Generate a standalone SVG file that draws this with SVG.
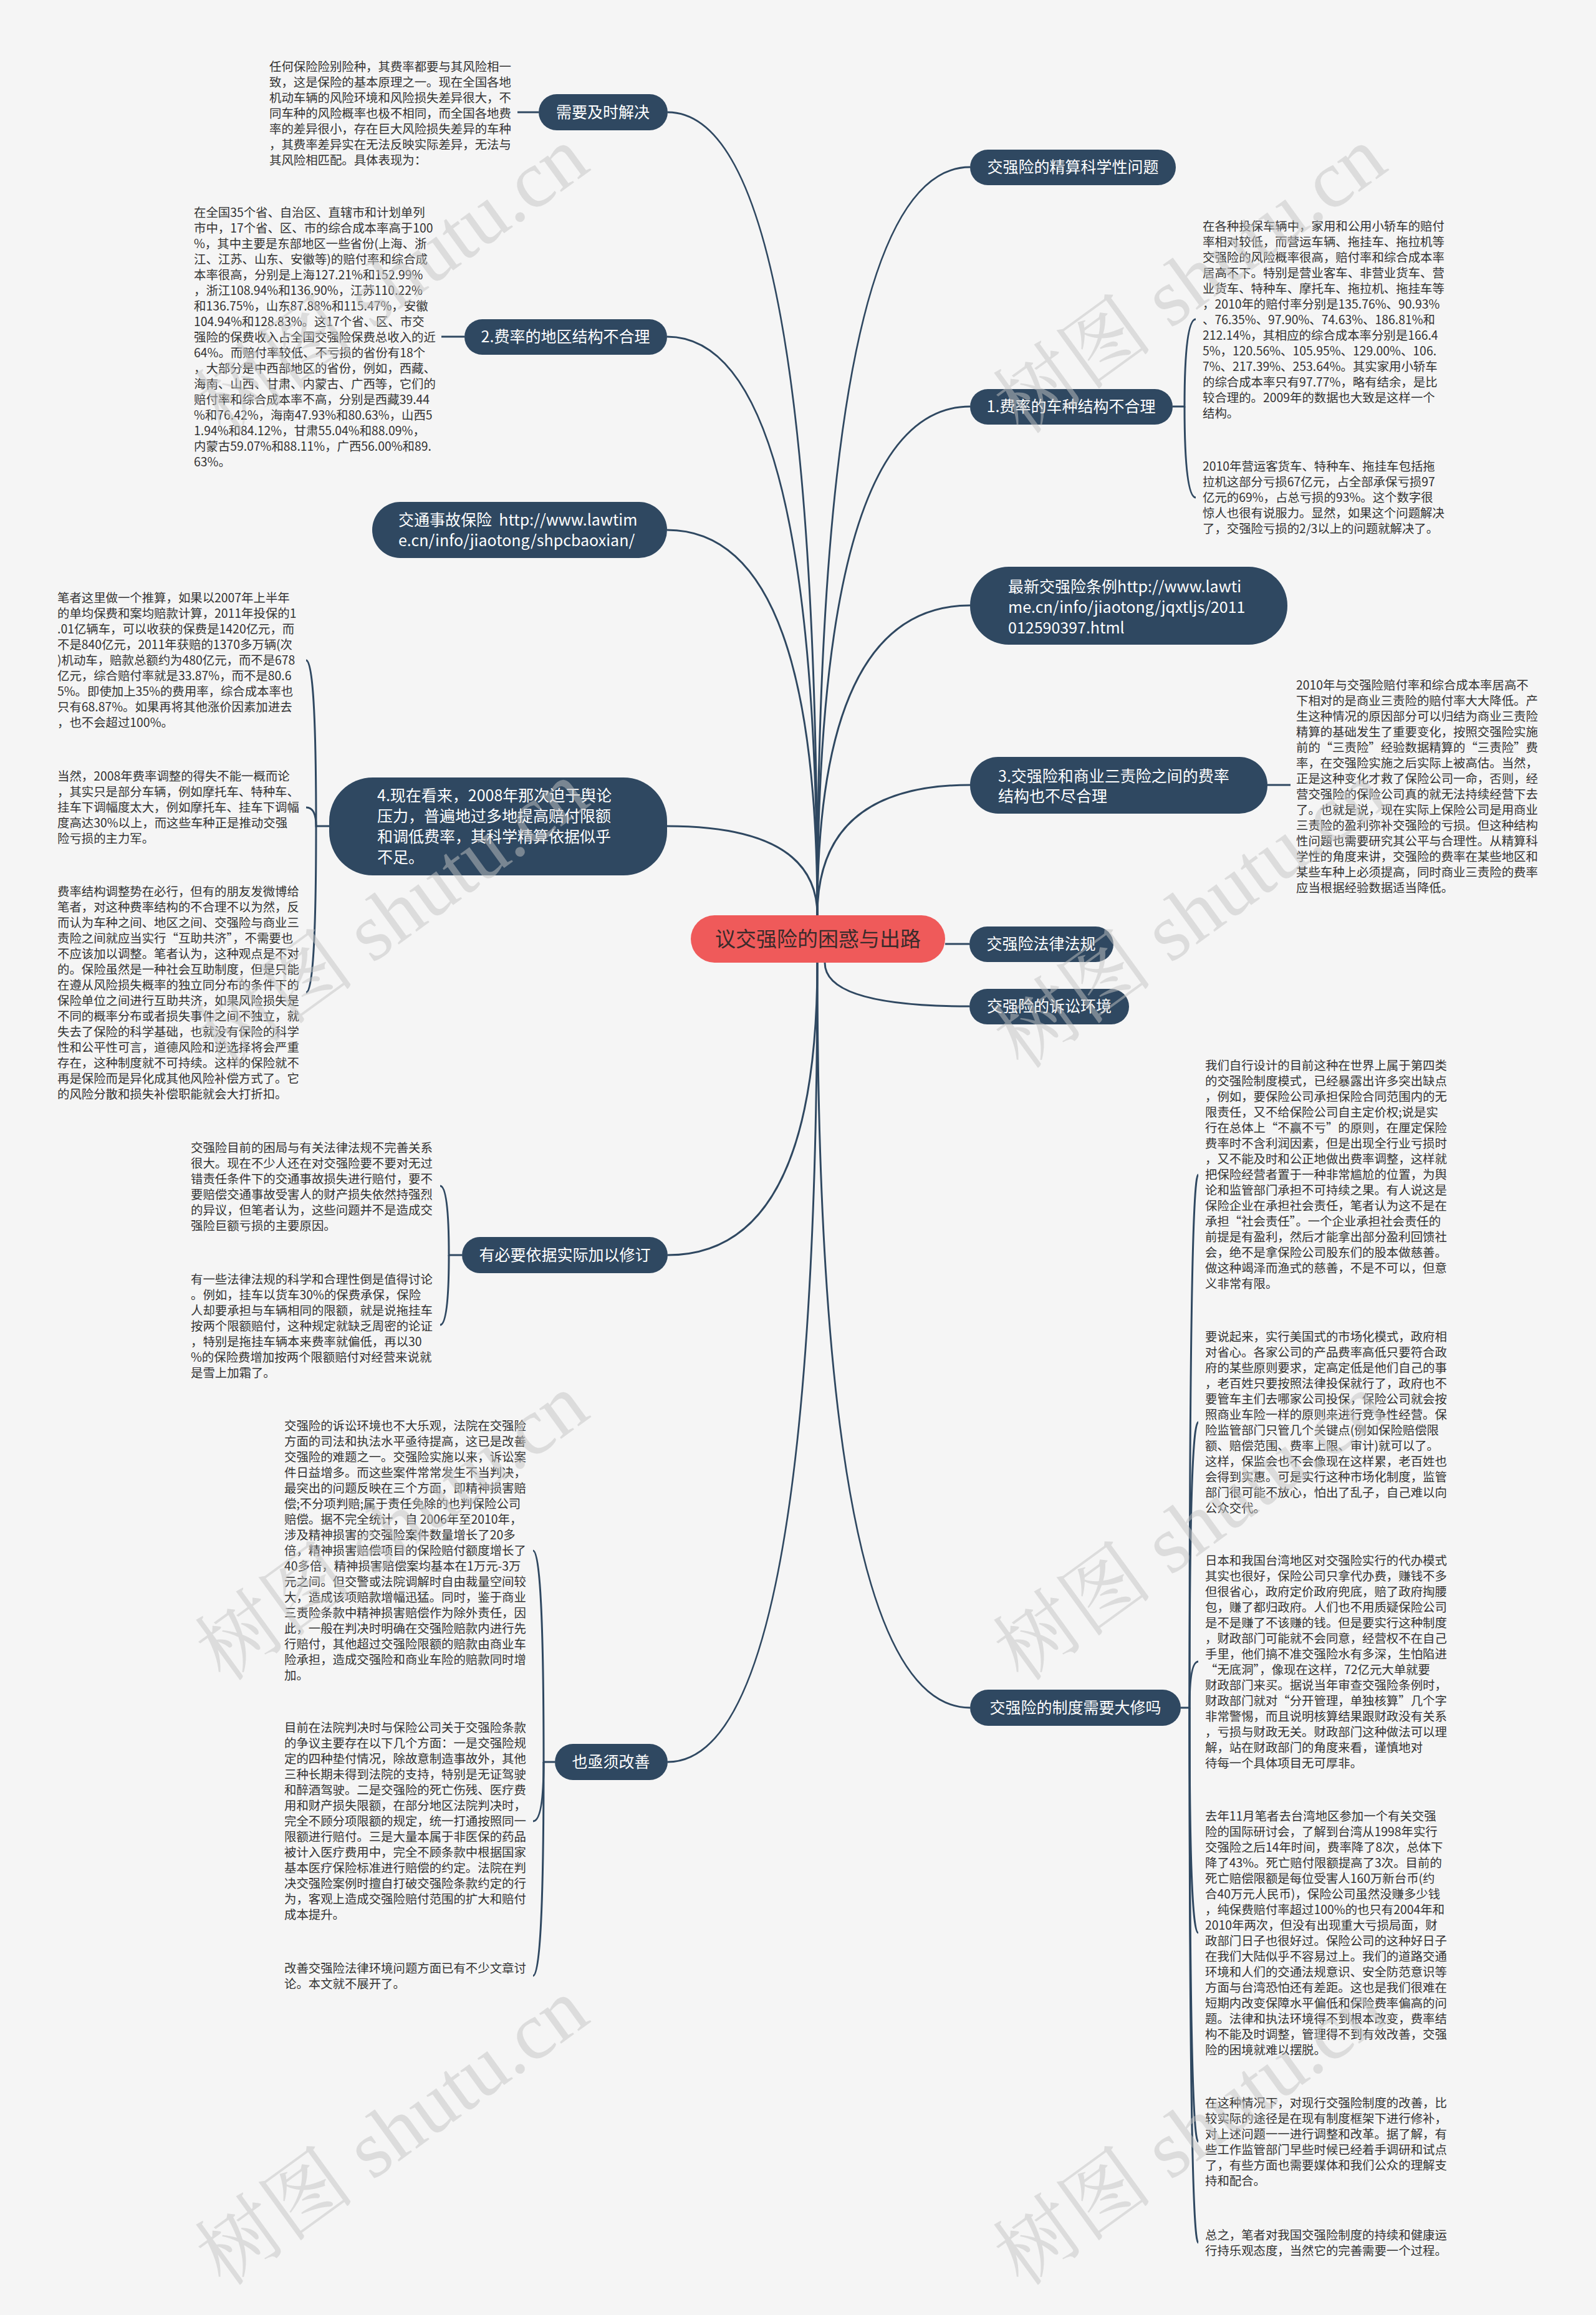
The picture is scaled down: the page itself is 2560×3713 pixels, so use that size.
<svg xmlns="http://www.w3.org/2000/svg" width="2560" height="3713" viewBox="0 0 2560 3713">
<style>
.n{fill:#2f4861}
.nt{fill:#ffffff;font-family:"Noto Sans CJK SC","Noto Sans",sans-serif;font-size:25px}
.t{fill:#333333;font-family:"Noto Sans CJK SC","Noto Sans",sans-serif;font-size:19.4px}
.c{fill:none;stroke:#2f4861;stroke-width:3}
.w{fill:#c4c4c4;fill-opacity:0.5;font-family:"Liberation Serif","Noto Serif CJK SC","Noto Sans CJK SC",serif;font-size:130px}
</style>
<rect x="0" y="0" width="2560" height="3713" fill="#f5f5f5"/>
<g id="connectors">
<path class="c" d="M1311,1468 Q1311,180 1071,180"/>
<path class="c" d="M1311,1468 Q1311,540 1070,540"/>
<path class="c" d="M1311,1468 Q1311,850 1070,850"/>
<path class="c" d="M1311,1468 Q1311,1325 1070,1325"/>
<path class="c" d="M1311,1468 Q1311,268 1556,268"/>
<path class="c" d="M1311,1468 Q1311,652 1556,652"/>
<path class="c" d="M1311,1468 Q1311,971 1556,971"/>
<path class="c" d="M1311,1468 Q1311,1259 1556,1259"/>
<path class="c" d="M1311,1544 Q1311,2013 1071,2013"/>
<path class="c" d="M1311,1544 Q1311,2826 1071,2826"/>
<path class="c" d="M1311,1544 Q1311,2739 1556,2739"/>
<path class="c" d="M1323,1544 Q1323,1614 1555,1614"/>
<path class="c" d="M1516,1514 H1555"/>
<path class="c" d="M830,180 H864"/>
<path class="c" d="M708,540 H745"/>
<path class="c" d="M2033,1259 H2070"/>
<path class="c" d="M1881,652 H1900 Q1900,512 1918,512"/>
<path class="c" d="M1900,652 Q1900,798 1918,798"/>
<path class="c" d="M528,1325 H507 Q507,1059 491,1059"/>
<path class="c" d="M507,1325 Q507,1295 491,1295"/>
<path class="c" d="M507,1325 Q507,1592 491,1592"/>
<path class="c" d="M741,2013 H720 Q720,1902 706,1902"/>
<path class="c" d="M720,2013 Q720,2125 706,2125"/>
<path class="c" d="M890,2826 H872 Q872,2487 855,2487"/>
<path class="c" d="M872,2826 Q872,2921 855,2921"/>
<path class="c" d="M872,2826 Q872,3169 855,3169"/>
<path class="c" d="M1894,2739 H1908 Q1908,1884 1922,1884"/>
<path class="c" d="M1908,2739 Q1908,2281 1922,2281"/>
<path class="c" d="M1908,2739 Q1908,2665 1922,2665"/>
<path class="c" d="M1908,2739 Q1908,3100 1922,3100"/>
<path class="c" d="M1908,2739 Q1908,3435 1922,3435"/>
<path class="c" d="M1908,2739 Q1908,3597 1922,3597"/>
</g>
<g id="root">
<rect x="1108" y="1468" width="408" height="76" rx="38" fill="#ef5a5a"/>
<text x="1312" y="1518" text-anchor="middle" style="fill:#3a2b2b;font-family:'Noto Sans CJK SC',sans-serif;font-size:33px">议交强险的困惑与出路</text>
</g>
<g id="n-jingsuan"><rect class="n" x="1556" y="240" width="330" height="57" rx="28.5"/><text class="nt" x="1721" y="277" text-anchor="middle">交强险的精算科学性问题</text></g>
<g id="n-chezhong"><rect class="n" x="1556" y="624" width="325" height="57" rx="28.5"/><text class="nt" x="1718" y="661" text-anchor="middle">1.费率的车种结构不合理</text></g>
<g id="n-tiaoli"><rect class="n" x="1556" y="909" width="509" height="125" rx="62"/><text class="nt" x="1617" y="950">最新交强险条例http://www.lawti<tspan x="1617" dy="33">me.cn/info/jiaotong/jqxtljs/2011</tspan><tspan x="1617" dy="33">012590397.html</tspan></text></g>
<g id="n-sanzexian"><rect class="n" x="1556" y="1214" width="477" height="91" rx="45"/><text class="nt" x="1601" y="1254">3.交强险和商业三责险之间的费率<tspan x="1601" dy="32">结构也不尽合理</tspan></text></g>
<g id="n-falv"><rect class="n" x="1555" y="1486" width="231" height="57" rx="28.5"/><text class="nt" x="1670" y="1523" text-anchor="middle">交强险法律法规</text></g>
<g id="n-susong"><rect class="n" x="1555" y="1586" width="256" height="57" rx="28.5"/><text class="nt" x="1683" y="1623" text-anchor="middle">交强险的诉讼环境</text></g>
<g id="n-zhidu"><rect class="n" x="1556" y="2710" width="338" height="58" rx="29"/><text class="nt" x="1725" y="2748" text-anchor="middle">交强险的制度需要大修吗</text></g>
<g id="n-jishi"><rect class="n" x="864" y="151" width="207" height="58" rx="29"/><text class="nt" x="967" y="189" text-anchor="middle">需要及时解决</text></g>
<g id="n-diqu"><rect class="n" x="745" y="512" width="325" height="57" rx="28.5"/><text class="nt" x="907" y="549" text-anchor="middle">2.费率的地区结构不合理</text></g>
<g id="n-shigu"><rect class="n" x="597" y="805" width="473" height="90" rx="45"/><text class="nt" x="639" y="843" xml:space="preserve">交通事故保险  http://www.lawtim<tspan x="639" dy="33">e.cn/info/jiaotong/shpcbaoxian/</tspan></text></g>
<g id="n-2008"><rect class="n" x="528" y="1247" width="542" height="157" rx="70"/><text class="nt" x="605" y="1285">4.现在看来，2008年那次迫于舆论<tspan x="605" dy="33">压力，普遍地过多地提高赔付限额</tspan><tspan x="605" dy="33">和调低费率，其科学精算依据似乎</tspan><tspan x="605" dy="33">不足。</tspan></text></g>
<g id="n-xiuding"><rect class="n" x="741" y="1984" width="330" height="58" rx="29"/><text class="nt" x="906" y="2022" text-anchor="middle">有必要依据实际加以修订</text></g>
<g id="n-gaishan"><rect class="n" x="890" y="2797" width="181" height="58" rx="29"/><text class="nt" x="980" y="2835" text-anchor="middle">也亟须改善</text></g>
<g id="t-jishi"><text class="t" x="432" y="114">任何保险险别险种，其费率都要与其风险相一<tspan x="432" dy="25">致，这是保险的基本原理之一。现在全国各地</tspan><tspan x="432" dy="25">机动车辆的风险环境和风险损失差异很大，不</tspan><tspan x="432" dy="25">同车种的风险概率也极不相同，而全国各地费</tspan><tspan x="432" dy="25">率的差异很小，存在巨大风险损失差异的车种</tspan><tspan x="432" dy="25">，其费率差异实在无法反映实际差异，无法与</tspan><tspan x="432" dy="25">其风险相匹配。具体表现为：</tspan></text></g>
<g id="t-diqu"><text class="t" x="311" y="348">在全国35个省、自治区、直辖市和计划单列<tspan x="311" dy="25">市中，17个省、区、市的综合成本率高于100</tspan><tspan x="311" dy="25">%，其中主要是东部地区一些省份(上海、浙</tspan><tspan x="311" dy="25">江、江苏、山东、安徽等)的赔付率和综合成</tspan><tspan x="311" dy="25">本率很高，分别是上海127.21%和152.99%</tspan><tspan x="311" dy="25">，浙江108.94%和136.90%，江苏110.22%</tspan><tspan x="311" dy="25">和136.75%，山东87.88%和115.47%，安徽</tspan><tspan x="311" dy="25">104.94%和128.83%。这17个省、区、市交</tspan><tspan x="311" dy="25">强险的保费收入占全国交强险保费总收入的近</tspan><tspan x="311" dy="25">64%。而赔付率较低、不亏损的省份有18个</tspan><tspan x="311" dy="25">，大部分是中西部地区的省份，例如，西藏、</tspan><tspan x="311" dy="25">海南、山西、甘肃、内蒙古、广西等，它们的</tspan><tspan x="311" dy="25">赔付率和综合成本率不高，分别是西藏39.44</tspan><tspan x="311" dy="25">%和76.42%，海南47.93%和80.63%，山西5</tspan><tspan x="311" dy="25">1.94%和84.12%，甘肃55.04%和88.09%，</tspan><tspan x="311" dy="25">内蒙古59.07%和88.11%，广西56.00%和89.</tspan><tspan x="311" dy="25">63%。</tspan></text></g>
<g id="t-tuisuan"><text class="t" x="92" y="966">笔者这里做一个推算，如果以2007年上半年<tspan x="92" dy="25">的单均保费和案均赔款计算，2011年投保的1</tspan><tspan x="92" dy="25">.01亿辆车，可以收获的保费是1420亿元，而</tspan><tspan x="92" dy="25">不是840亿元，2011年获赔的1370多万辆(次</tspan><tspan x="92" dy="25">)机动车，赔款总额约为480亿元，而不是678</tspan><tspan x="92" dy="25">亿元，综合赔付率就是33.87%，而不是80.6</tspan><tspan x="92" dy="25">5%。即使加上35%的费用率，综合成本率也</tspan><tspan x="92" dy="25">只有68.87%。如果再将其他涨价因素加进去</tspan><tspan x="92" dy="25">，也不会超过100%。</tspan></text></g>
<g id="t-dangran"><text class="t" x="92" y="1252">当然，2008年费率调整的得失不能一概而论<tspan x="92" dy="25">，其实只是部分车辆，例如摩托车、特种车、</tspan><tspan x="92" dy="25">挂车下调幅度太大，例如摩托车、挂车下调幅</tspan><tspan x="92" dy="25">度高达30%以上，而这些车种正是推动交强</tspan><tspan x="92" dy="25">险亏损的主力军。</tspan></text></g>
<g id="t-jiegou"><text class="t" x="92" y="1437">费率结构调整势在必行，但有的朋友发微博给<tspan x="92" dy="25">笔者，对这种费率结构的不合理不以为然，反</tspan><tspan x="92" dy="25">而认为车种之间、地区之间、交强险与商业三</tspan><tspan x="92" dy="25">责险之间就应当实行“互助共济”，不需要也</tspan><tspan x="92" dy="25">不应该加以调整。笔者认为，这种观点是不对</tspan><tspan x="92" dy="25">的。保险虽然是一种社会互助制度，但是只能</tspan><tspan x="92" dy="25">在遵从风险损失概率的独立同分布的条件下的</tspan><tspan x="92" dy="25">保险单位之间进行互助共济，如果风险损失是</tspan><tspan x="92" dy="25">不同的概率分布或者损失事件之间不独立，就</tspan><tspan x="92" dy="25">失去了保险的科学基础，也就没有保险的科学</tspan><tspan x="92" dy="25">性和公平性可言，道德风险和逆选择将会严重</tspan><tspan x="92" dy="25">存在，这种制度就不可持续。这样的保险就不</tspan><tspan x="92" dy="25">再是保险而是异化成其他风险补偿方式了。它</tspan><tspan x="92" dy="25">的风险分散和损失补偿职能就会大打折扣。</tspan></text></g>
<g id="t-kunju"><text class="t" x="306" y="1848">交强险目前的困局与有关法律法规不完善关系<tspan x="306" dy="25">很大。现在不少人还在对交强险要不要对无过</tspan><tspan x="306" dy="25">错责任条件下的交通事故损失进行赔付，要不</tspan><tspan x="306" dy="25">要赔偿交通事故受害人的财产损失依然持强烈</tspan><tspan x="306" dy="25">的异议，但笔者认为，这些问题并不是造成交</tspan><tspan x="306" dy="25">强险巨额亏损的主要原因。</tspan></text></g>
<g id="t-guache"><text class="t" x="306" y="2059">有一些法律法规的科学和合理性倒是值得讨论<tspan x="306" dy="25">。例如，挂车以货车30%的保费承保，保险</tspan><tspan x="306" dy="25">人却要承担与车辆相同的限额，就是说拖挂车</tspan><tspan x="306" dy="25">按两个限额赔付，这种规定就缺乏周密的论证</tspan><tspan x="306" dy="25">，特别是拖挂车辆本来费率就偏低，再以30</tspan><tspan x="306" dy="25">%的保险费增加按两个限额赔付对经营来说就</tspan><tspan x="306" dy="25">是雪上加霜了。</tspan></text></g>
<g id="t-susong"><text class="t" x="456" y="2294">交强险的诉讼环境也不大乐观，法院在交强险<tspan x="456" dy="25">方面的司法和执法水平亟待提高，这已是改善</tspan><tspan x="456" dy="25">交强险的难题之一。交强险实施以来，诉讼案</tspan><tspan x="456" dy="25">件日益增多。而这些案件常常发生不当判决，</tspan><tspan x="456" dy="25">最突出的问题反映在三个方面，即精神损害赔</tspan><tspan x="456" dy="25">偿;不分项判赔;属于责任免除的也判保险公司</tspan><tspan x="456" dy="25">赔偿。据不完全统计，自 2006年至2010年，</tspan><tspan x="456" dy="25">涉及精神损害的交强险案件数量增长了20多</tspan><tspan x="456" dy="25">倍，精神损害赔偿项目的保险赔付额度增长了</tspan><tspan x="456" dy="25">40多倍，精神损害赔偿案均基本在1万元-3万</tspan><tspan x="456" dy="25">元之间。但交警或法院调解时自由裁量空间较</tspan><tspan x="456" dy="25">大，造成该项赔款增幅迅猛。同时，鉴于商业</tspan><tspan x="456" dy="25">三责险条款中精神损害赔偿作为除外责任，因</tspan><tspan x="456" dy="25">此，一般在判决时明确在交强险赔款内进行先</tspan><tspan x="456" dy="25">行赔付，其他超过交强险限额的赔款由商业车</tspan><tspan x="456" dy="25">险承担，造成交强险和商业车险的赔款同时增</tspan><tspan x="456" dy="25">加。</tspan></text></g>
<g id="t-zhengyi"><text class="t" x="456" y="2778">目前在法院判决时与保险公司关于交强险条款<tspan x="456" dy="25">的争议主要存在以下几个方面：一是交强险规</tspan><tspan x="456" dy="25">定的四种垫付情况，除故意制造事故外，其他</tspan><tspan x="456" dy="25">三种长期未得到法院的支持，特别是无证驾驶</tspan><tspan x="456" dy="25">和醉酒驾驶。二是交强险的死亡伤残、医疗费</tspan><tspan x="456" dy="25">用和财产损失限额，在部分地区法院判决时，</tspan><tspan x="456" dy="25">完全不顾分项限额的规定，统一打通按照同一</tspan><tspan x="456" dy="25">限额进行赔付。三是大量本属于非医保的药品</tspan><tspan x="456" dy="25">被计入医疗费用中，完全不顾条款中根据国家</tspan><tspan x="456" dy="25">基本医疗保险标准进行赔偿的约定。法院在判</tspan><tspan x="456" dy="25">决交强险案例时擅自打破交强险条款约定的行</tspan><tspan x="456" dy="25">为，客观上造成交强险赔付范围的扩大和赔付</tspan><tspan x="456" dy="25">成本提升。</tspan></text></g>
<g id="t-zhankai"><text class="t" x="456" y="3164">改善交强险法律环境问题方面已有不少文章讨<tspan x="456" dy="25">论。本文就不展开了。</tspan></text></g>
<g id="t-jiaoche"><text class="t" x="1929" y="370">在各种投保车辆中，家用和公用小轿车的赔付<tspan x="1929" dy="25">率相对较低，而营运车辆、拖挂车、拖拉机等</tspan><tspan x="1929" dy="25">交强险的风险概率很高，赔付率和综合成本率</tspan><tspan x="1929" dy="25">居高不下。特别是营业客车、非营业货车、营</tspan><tspan x="1929" dy="25">业货车、特种车、摩托车、拖拉机、拖挂车等</tspan><tspan x="1929" dy="25">，2010年的赔付率分别是135.76%、90.93%</tspan><tspan x="1929" dy="25">、76.35%、97.90%、74.63%、186.81%和</tspan><tspan x="1929" dy="25">212.14%，其相应的综合成本率分别是166.4</tspan><tspan x="1929" dy="25">5%，120.56%、105.95%、129.00%、106.</tspan><tspan x="1929" dy="25">7%、217.39%、253.64%。其实家用小轿车</tspan><tspan x="1929" dy="25">的综合成本率只有97.77%，略有结余，是比</tspan><tspan x="1929" dy="25">较合理的。2009年的数据也大致是这样一个</tspan><tspan x="1929" dy="25">结构。</tspan></text></g>
<g id="t-kuisun"><text class="t" x="1929" y="755">2010年营运客货车、特种车、拖挂车包括拖<tspan x="1929" dy="25">拉机这部分亏损67亿元，占全部承保亏损97</tspan><tspan x="1929" dy="25">亿元的69%，占总亏损的93%。这个数字很</tspan><tspan x="1929" dy="25">惊人也很有说服力。显然，如果这个问题解决</tspan><tspan x="1929" dy="25">了，交强险亏损的2/3以上的问题就解决了。</tspan></text></g>
<g id="t-sanze"><text class="t" x="2079" y="1106">2010年与交强险赔付率和综合成本率居高不<tspan x="2079" dy="25">下相对的是商业三责险的赔付率大大降低。产</tspan><tspan x="2079" dy="25">生这种情况的原因部分可以归结为商业三责险</tspan><tspan x="2079" dy="25">精算的基础发生了重要变化，按照交强险实施</tspan><tspan x="2079" dy="25">前的“三责险”经验数据精算的“三责险”费</tspan><tspan x="2079" dy="25">率，在交强险实施之后实际上被高估。当然，</tspan><tspan x="2079" dy="25">正是这种变化才救了保险公司一命，否则，经</tspan><tspan x="2079" dy="25">营交强险的保险公司真的就无法持续经营下去</tspan><tspan x="2079" dy="25">了。也就是说，现在实际上保险公司是用商业</tspan><tspan x="2079" dy="25">三责险的盈利弥补交强险的亏损。但这种结构</tspan><tspan x="2079" dy="25">性问题也需要研究其公平与合理性。从精算科</tspan><tspan x="2079" dy="25">学性的角度来讲，交强险的费率在某些地区和</tspan><tspan x="2079" dy="25">某些车种上必须提高，同时商业三责险的费率</tspan><tspan x="2079" dy="25">应当根据经验数据适当降低。</tspan></text></g>
<g id="t-disilei"><text class="t" x="1933" y="1716">我们自行设计的目前这种在世界上属于第四类<tspan x="1933" dy="25">的交强险制度模式，已经暴露出许多突出缺点</tspan><tspan x="1933" dy="25">，例如，要保险公司承担保险合同范围内的无</tspan><tspan x="1933" dy="25">限责任，又不给保险公司自主定价权;说是实</tspan><tspan x="1933" dy="25">行在总体上“不赢不亏”的原则，在厘定保险</tspan><tspan x="1933" dy="25">费率时不含利润因素，但是出现全行业亏损时</tspan><tspan x="1933" dy="25">，又不能及时和公正地做出费率调整，这样就</tspan><tspan x="1933" dy="25">把保险经营者置于一种非常尴尬的位置，为舆</tspan><tspan x="1933" dy="25">论和监管部门承担不可持续之果。有人说这是</tspan><tspan x="1933" dy="25">保险企业在承担社会责任，笔者认为这不是在</tspan><tspan x="1933" dy="25">承担“社会责任”。一个企业承担社会责任的</tspan><tspan x="1933" dy="25">前提是有盈利，然后才能拿出部分盈利回馈社</tspan><tspan x="1933" dy="25">会，绝不是拿保险公司股东们的股本做慈善。</tspan><tspan x="1933" dy="25">做这种竭泽而渔式的慈善，不是不可以，但意</tspan><tspan x="1933" dy="25">义非常有限。</tspan></text></g>
<g id="t-meiguo"><text class="t" x="1933" y="2151">要说起来，实行美国式的市场化模式，政府相<tspan x="1933" dy="25">对省心。各家公司的产品费率高低只要符合政</tspan><tspan x="1933" dy="25">府的某些原则要求，定高定低是他们自己的事</tspan><tspan x="1933" dy="25">，老百姓只要按照法律投保就行了，政府也不</tspan><tspan x="1933" dy="25">要管车主们去哪家公司投保，保险公司就会按</tspan><tspan x="1933" dy="25">照商业车险一样的原则来进行竞争性经营。保</tspan><tspan x="1933" dy="25">险监管部门只管几个关键点(例如保险赔偿限</tspan><tspan x="1933" dy="25">额、赔偿范围、费率上限、审计)就可以了。</tspan><tspan x="1933" dy="25">这样，保监会也不会像现在这样累，老百姓也</tspan><tspan x="1933" dy="25">会得到实惠。可是实行这种市场化制度，监管</tspan><tspan x="1933" dy="25">部门很可能不放心，怕出了乱子，自己难以向</tspan><tspan x="1933" dy="25">公众交代。</tspan></text></g>
<g id="t-daiban"><text class="t" x="1933" y="2510">日本和我国台湾地区对交强险实行的代办模式<tspan x="1933" dy="25">其实也很好，保险公司只拿代办费，赚钱不多</tspan><tspan x="1933" dy="25">但很省心，政府定价政府兜底，赔了政府掏腰</tspan><tspan x="1933" dy="25">包，赚了都归政府。人们也不用质疑保险公司</tspan><tspan x="1933" dy="25">是不是赚了不该赚的钱。但是要实行这种制度</tspan><tspan x="1933" dy="25">，财政部门可能就不会同意，经营权不在自己</tspan><tspan x="1933" dy="25">手里，他们搞不准交强险水有多深，生怕陷进</tspan><tspan x="1933" dy="25">“无底洞”，像现在这样，72亿元大单就要</tspan><tspan x="1933" dy="25">财政部门来买。据说当年审查交强险条例时，</tspan><tspan x="1933" dy="25">财政部门就对“分开管理，单独核算”几个字</tspan><tspan x="1933" dy="25">非常警惕，而且说明核算结果跟财政没有关系</tspan><tspan x="1933" dy="25">，亏损与财政无关。财政部门这种做法可以理</tspan><tspan x="1933" dy="25">解，站在财政部门的角度来看，谨慎地对</tspan><tspan x="1933" dy="25">待每一个具体项目无可厚非。</tspan></text></g>
<g id="t-taiwan"><text class="t" x="1933" y="2920">去年11月笔者去台湾地区参加一个有关交强<tspan x="1933" dy="25">险的国际研讨会，了解到台湾从1998年实行</tspan><tspan x="1933" dy="25">交强险之后14年时间，费率降了8次，总体下</tspan><tspan x="1933" dy="25">降了43%。死亡赔付限额提高了3次。目前的</tspan><tspan x="1933" dy="25">死亡赔偿限额是每位受害人160万新台币(约</tspan><tspan x="1933" dy="25">合40万元人民币)，保险公司虽然没赚多少钱</tspan><tspan x="1933" dy="25">，纯保费赔付率超过100%的也只有2004年和</tspan><tspan x="1933" dy="25">2010年两次，但没有出现重大亏损局面，财</tspan><tspan x="1933" dy="25">政部门日子也很好过。保险公司的这种好日子</tspan><tspan x="1933" dy="25">在我们大陆似乎不容易过上。我们的道路交通</tspan><tspan x="1933" dy="25">环境和人们的交通法规意识、安全防范意识等</tspan><tspan x="1933" dy="25">方面与台湾恐怕还有差距。这也是我们很难在</tspan><tspan x="1933" dy="25">短期内改变保障水平偏低和保险费率偏高的问</tspan><tspan x="1933" dy="25">题。法律和执法环境得不到根本改变，费率结</tspan><tspan x="1933" dy="25">构不能及时调整，管理得不到有效改善，交强</tspan><tspan x="1933" dy="25">险的困境就难以摆脱。</tspan></text></g>
<g id="t-xiubu"><text class="t" x="1933" y="3380">在这种情况下，对现行交强险制度的改善，比<tspan x="1933" dy="25">较实际的途径是在现有制度框架下进行修补，</tspan><tspan x="1933" dy="25">对上述问题一一进行调整和改革。据了解，有</tspan><tspan x="1933" dy="25">些工作监管部门早些时候已经着手调研和试点</tspan><tspan x="1933" dy="25">了，有些方面也需要媒体和我们公众的理解支</tspan><tspan x="1933" dy="25">持和配合。</tspan></text></g>
<g id="t-zongzhi"><text class="t" x="1933" y="3592">总之，笔者对我国交强险制度的持续和健康运<tspan x="1933" dy="25">行持乐观态度，当然它的完善需要一个过程。</tspan></text></g>
<g id="watermarks">
<text class="w" transform="translate(360,700) rotate(-36)">树图 shutu.cn</text>
<text class="w" transform="translate(1640,700) rotate(-36)">树图 shutu.cn</text>
<text class="w" transform="translate(360,1718) rotate(-36)">树图 shutu.cn</text>
<text class="w" transform="translate(1640,1718) rotate(-36)">树图 shutu.cn</text>
<text class="w" transform="translate(360,2700) rotate(-36)">树图 shutu.cn</text>
<text class="w" transform="translate(1640,2700) rotate(-36)">树图 shutu.cn</text>
<text class="w" transform="translate(360,3670) rotate(-36)">树图 shutu.cn</text>
<text class="w" transform="translate(1640,3670) rotate(-36)">树图 shutu.cn</text>
</g>
</svg>
